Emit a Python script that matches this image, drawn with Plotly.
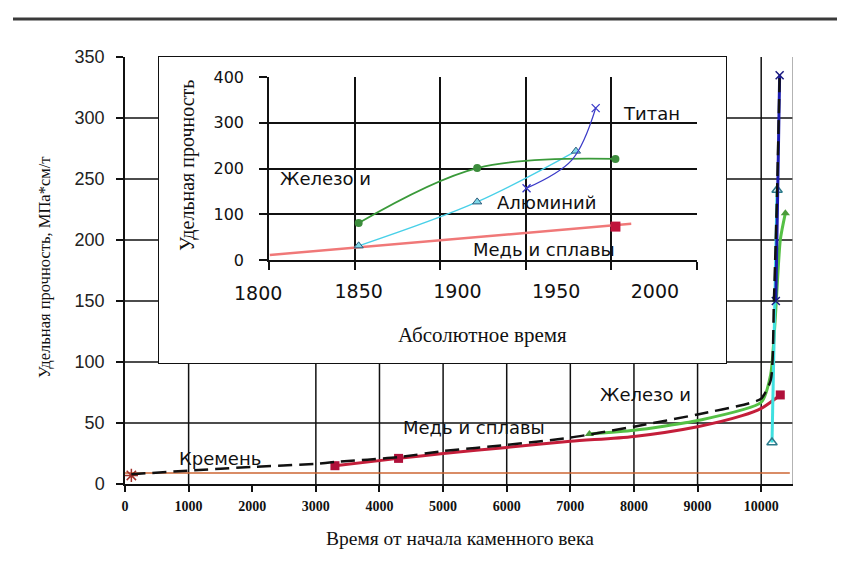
import plotly.graph_objects as go

# ---------------- geometry helpers (screen pixel -> paper) ----------------
# the page body adds an 8px offset, so the figure is 8px smaller and margins shifted
OFF = 8
W, H = 845 - OFF, 563 - OFF
ML, MR, MT, MB = 125 - OFF, 52, 57 - OFF, 79
PW = W - ML - MR
PH = H - MT - MB


def fx(p):
    return (p - OFF - ML) / PW


def fy(p):
    return (H - MB - (p - OFF)) / PH


# ---------------- main chart data ----------------
main_x_ticks = [0, 1000, 2000, 3000, 4000, 5000, 6000, 7000, 8000, 9000, 10000]
main_x_labels = ["0", "1000", "2000", "3000", "4000", "5000", "6000", "7000",
                 "8000", "9000", "10000"]
main_y_ticks = [0, 50, 100, 150, 200, 250, 300, 350]
grid_x = [1000, 3000, 4000, 5000, 6000, 7000, 8000, 9000, 10000]
grid_y = [50, 100, 150, 200, 250, 300]

flint_x = [0, 10450]
flint_y = [9, 9]
flint_pt_x = [100]
flint_pt_y = [7]

copper_x = [3300, 4300, 5000, 6000, 7000, 8000, 9000, 9700, 10000, 10300]
copper_y = [15, 21, 25, 30, 35, 39, 47, 56, 62, 73]
copper_mk_x = [3300, 4300, 10300]
copper_mk_y = [15, 21, 73]

iron_x = [7300, 8000, 9000, 10000, 10150, 10300, 10380]
iron_y = [41, 44, 52, 67, 90, 200, 222]
iron_mk_x = [7300, 10380]
iron_mk_y = [41, 222]

alu_x = [10170, 10200, 10250]
alu_y = [34, 120, 241]
alu_mk_x = [10170, 10250]
alu_mk_y = [34, 241]

ti_x = [10230, 10260, 10290]
ti_y = [150, 240, 335]
ti_mk_x = [10230, 10290]
ti_mk_y = [150, 335]

env_x = [100, 1000, 2000, 3000, 3300, 4300, 5000, 6000, 7000, 8000, 9000,
         9800, 10000, 10150, 10200, 10250, 10290]
env_y = [8, 11, 14, 16.5, 18, 22, 27, 32, 38, 47, 57, 66, 70, 85, 150, 240, 335]

# ---------------- inset data ----------------
inset_x_ticks = [1850, 1900, 1950, 2000]
inset_grid_x = [1800, 1850, 1900, 1950, 2000, 2050]
inset_y_ticks = [0, 100, 200, 300, 400]

iron_in_x = [1850, 1910, 1980]
iron_in_y = [81, 201, 221]

alu_in_x = [1850, 1910, 1960]
alu_in_y = [31, 127, 238]

ti_in_x = [1935, 1958, 1970]
ti_in_y = [157, 219, 332]
ti_in_mk_x = [1935, 1970]
ti_in_mk_y = [157, 332]

cu_in_x = [1805, 1988]
cu_in_y = [11, 79]
cu_in_mk_x = [1980]
cu_in_mk_y = [73]

fig = go.Figure()

# ---- main traces ----
fig.add_trace(go.Scatter(x=flint_x, y=flint_y, mode="lines",
                         line=dict(color="#cc6633", width=1.5)))
fig.add_trace(go.Scatter(x=flint_pt_x, y=flint_pt_y, mode="markers",
                         marker=dict(symbol="asterisk-open", size=11, color="#a0302a",
                                     line=dict(color="#a0302a", width=1.5))))
fig.add_trace(go.Scatter(x=copper_x, y=copper_y, mode="lines",
                         line=dict(color="#c41e3a", width=3, shape="spline", smoothing=0.8)))
fig.add_trace(go.Scatter(x=copper_mk_x, y=copper_mk_y, mode="markers",
                         marker=dict(symbol="square", size=9, color="#b0103a")))
fig.add_trace(go.Scatter(x=iron_x, y=iron_y, mode="lines",
                         line=dict(color="#55c045", width=3, shape="spline", smoothing=0.6)))
fig.add_trace(go.Scatter(x=iron_mk_x, y=iron_mk_y, mode="markers",
                         marker=dict(symbol="triangle-up", size=8, color="#4a9a3a")))
fig.add_trace(go.Scatter(x=alu_x, y=alu_y, mode="lines",
                         line=dict(color="#40e0e0", width=3)))
fig.add_trace(go.Scatter(x=alu_mk_x, y=alu_mk_y, mode="markers",
                         marker=dict(symbol="triangle-up-open", size=9, color="#2a7a8a",
                                     line=dict(color="#2a7a8a", width=1.5))))
fig.add_trace(go.Scatter(x=ti_x, y=ti_y, mode="lines",
                         line=dict(color="#1a1ab0", width=3, shape="spline", smoothing=0.6)))
fig.add_trace(go.Scatter(x=ti_mk_x, y=ti_mk_y, mode="markers",
                         marker=dict(symbol="x-thin-open", size=8, color="#1a1a80",
                                     line=dict(color="#1a1a80", width=1.5))))
fig.add_trace(go.Scatter(x=env_x, y=env_y, mode="lines",
                         line=dict(color="#111111", width=2.5, dash="14px,7px",
                                   shape="spline", smoothing=0.6)))

# ---- inset frame subplot (x2/y2), empty ----
fig.add_trace(go.Scatter(x=[], y=[], xaxis="x2", yaxis="y2"))
# ---- inset grid subplot (x3/y3), empty ----
fig.add_trace(go.Scatter(x=[], y=[], xaxis="x3", yaxis="y3"))

# ---- inset traces (x4 overlay / y3) ----
fig.add_trace(go.Scatter(x=cu_in_x, y=cu_in_y, mode="lines", xaxis="x4", yaxis="y3",
                         line=dict(color="#f07878", width=2.5)))
fig.add_trace(go.Scatter(x=cu_in_mk_x, y=cu_in_mk_y, mode="markers", xaxis="x4", yaxis="y3",
                         marker=dict(symbol="square", size=10, color="#c0143c")))
fig.add_trace(go.Scatter(x=alu_in_x, y=alu_in_y, mode="lines+markers", xaxis="x4", yaxis="y3",
                         line=dict(color="#48d0e8", width=1.3, shape="spline"),
                         marker=dict(symbol="triangle-up", size=8, color="#7fd8e8",
                                     line=dict(color="#2a5a7a", width=1))))
fig.add_trace(go.Scatter(x=iron_in_x, y=iron_in_y, mode="lines+markers", xaxis="x4", yaxis="y3",
                         line=dict(color="#3a9a3a", width=1.8, shape="spline"),
                         marker=dict(symbol="circle", size=8, color="#3c8c3c")))
fig.add_trace(go.Scatter(x=ti_in_x, y=ti_in_y, mode="lines", xaxis="x4", yaxis="y3",
                         line=dict(color="#3a3ac8", width=1.3, shape="spline")))
fig.add_trace(go.Scatter(x=ti_in_mk_x, y=ti_in_mk_y, mode="markers", xaxis="x4", yaxis="y3",
                         marker=dict(symbol="x-thin-open", size=8, color="#3a3ac8",
                                     line=dict(color="#3a3ac8", width=1.3))))

# ---- shapes: main gridlines, borders ----
shapes = []
for gx in grid_x:
    shapes.append(dict(type="line", xref="x", yref="y", x0=gx, x1=gx, y0=0, y1=350,
                       line=dict(color="#111111", width=1.5), layer="below"))
for gy in grid_y:
    shapes.append(dict(type="line", xref="x", yref="y", x0=0, x1=10500, y0=gy, y1=gy,
                       line=dict(color="#111111", width=1.5), layer="below"))
shapes.append(dict(type="line", xref="x", yref="y", x0=10500, x1=10500, y0=0, y1=350,
                   line=dict(color="#9a9a9a", width=1.5), layer="below"))
shapes.append(dict(type="line", xref="paper", yref="paper", x0=fx(13), x1=fx(845),
                   y0=fy(19), y1=fy(19), line=dict(color="#3a3a3a", width=3)))

TXT = "DejaVu Sans, Verdana, sans-serif"
SERIF = "Liberation Serif, Times New Roman, serif"

annotations = [
    dict(text="Кремень", x=1493, y=20.5, xref="x", yref="y"),
    dict(text="Медь и сплавы", x=5486, y=46, xref="x", yref="y"),
    dict(text="Железо и", x=8174, y=73, xref="x", yref="y"),
    dict(text="Железо и", x=1833, y=179, xref="x4", yref="y3"),
    dict(text="Титан", x=1998.5, y=321, xref="x4", yref="y3"),
    dict(text="Алюминий", x=1945, y=125, xref="x4", yref="y3"),
    dict(text="Медь и сплавы", x=1944, y=22, xref="x4", yref="y3"),
]
for a in annotations:
    a.update(showarrow=False, xanchor="center", yanchor="middle",
             font=dict(family=TXT, size=18, color="#111111"))
annotations.append(dict(text="1800", x=fx(258), y=fy(293), xref="paper", yref="paper",
                        showarrow=False, xanchor="center", yanchor="middle",
                        font=dict(family=TXT, size=19, color="#111111")))

titles = [
    dict(text="Удельная прочность, МПа*см/т", x=fx(44), y=fy(268), textangle=-90, size=16.5),
    dict(text="Время от начала каменного века", x=fx(460), y=fy(538), textangle=0, size=19.5),
    dict(text="Удельная прочность", x=fx(187), y=fy(166), textangle=-90, size=20),
    dict(text="Абсолютное время", x=fx(483), y=fy(335), textangle=0, size=21),
]
for t in titles:
    s = t.pop("size")
    t.update(showarrow=False, xref="paper", yref="paper", xanchor="center", yanchor="middle",
             font=dict(family=SERIF, size=s, color="#111111"))
annotations += titles

fig.update_layout(
    width=W, height=H,
    margin=dict(l=ML, r=MR, t=MT, b=MB),
    paper_bgcolor="white", plot_bgcolor="white",
    showlegend=False,
    shapes=shapes,
    annotations=annotations,
    xaxis=dict(range=[0, 10500], tickvals=main_x_ticks, ticktext=main_x_labels,
               showgrid=False, zeroline=False,
               showline=True, linecolor="#111111", linewidth=1.5,
               ticks="outside", ticklen=6, tickcolor="#111111", tickwidth=1.5,
               tickfont=dict(family=SERIF, size=14, color="#111111", weight="bold"),
               ticklabelstandoff=2),
    yaxis=dict(range=[0, 350], tickvals=main_y_ticks, showgrid=False, zeroline=False,
               showline=True, linecolor="#111111", linewidth=1.5,
               ticks="outside", ticklen=7, tickcolor="#111111", tickwidth=1.5,
               tickfont=dict(family="Liberation Sans, Arial, sans-serif", size=18,
                             color="#222222"),
               ticklabelstandoff=8),
    xaxis2=dict(domain=[fx(159), fx(726)], anchor="y2", range=[0, 1],
                showgrid=False, zeroline=False, showticklabels=False, ticks="",
                showline=True, mirror=True, linecolor="#111111", linewidth=1),
    yaxis2=dict(domain=[fy(363), fy(57)], anchor="x2", range=[0, 1],
                showgrid=False, zeroline=False, showticklabels=False, ticks="",
                showline=True, mirror=True, linecolor="#111111", linewidth=1),
    xaxis3=dict(domain=[fx(269), fx(697)], anchor="y3", range=[1800, 2050],
                tickvals=inset_grid_x, showticklabels=False,
                showgrid=True, gridcolor="#111111", gridwidth=1.5, zeroline=False,
                showline=True, linecolor="#111111", linewidth=1.5,
                ticks="outside", ticklen=8, tickcolor="#111111", tickwidth=1.5),
    yaxis3=dict(domain=[fy(260), fy(77)], anchor="x3", range=[0, 400],
                tickvals=inset_y_ticks, showgrid=True, gridcolor="#111111", gridwidth=1.5,
                zeroline=False, showline=True, linecolor="#111111", linewidth=1.5,
                ticks="outside", ticklen=8, tickcolor="#111111", tickwidth=1.5,
                tickfont=dict(family=TXT, size=16, color="#111111"),
                ticklabelstandoff=12),
    xaxis4=dict(overlaying="x3", anchor="y3", range=[1804.6, 2021.3],
                tickvals=inset_x_ticks, showgrid=False, zeroline=False, showline=False,
                ticks="", tickfont=dict(family=TXT, size=19, color="#111111"),
                ticklabelstandoff=18),
)

fig.write_html("out.html")
